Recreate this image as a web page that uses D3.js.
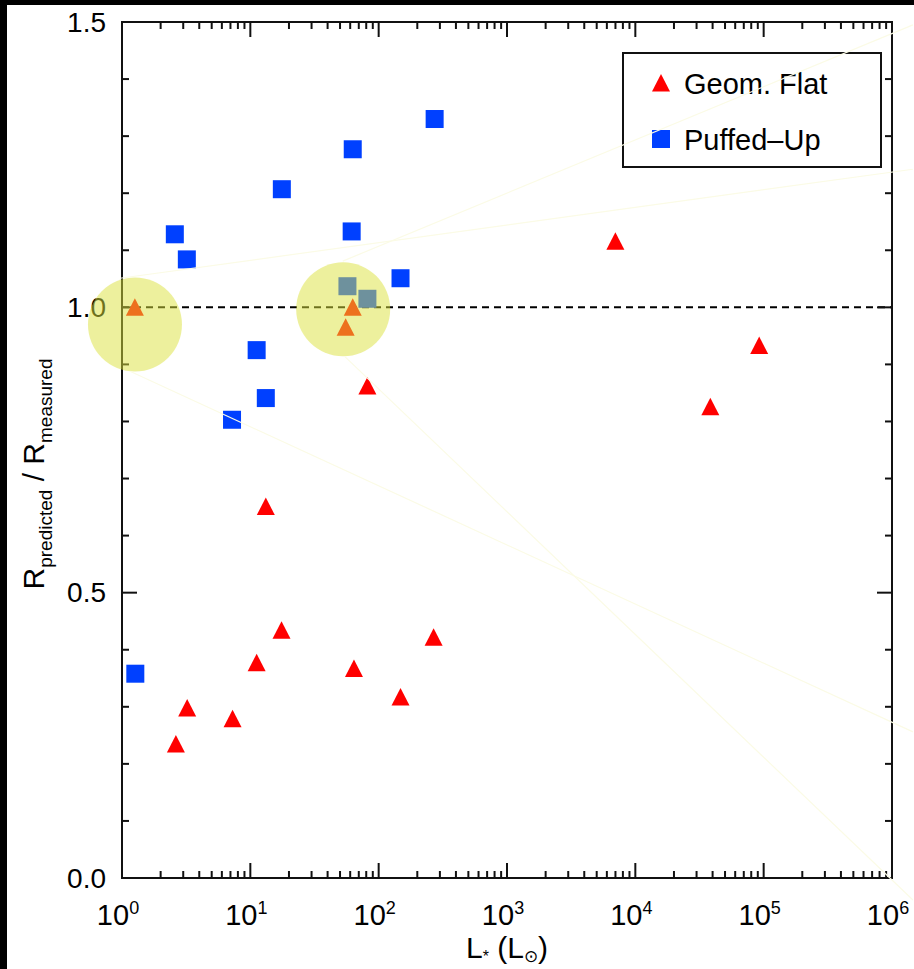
<!DOCTYPE html>
<html>
<head>
<meta charset="utf-8">
<script src="https://cdn.jsdelivr.net/npm/d3@7"></script>
<style>
  html, body { margin: 0; padding: 0; background: #fff; }
  svg { display: block; }
  text { font-family: "Liberation Sans", Arial, sans-serif; fill: #000; }
</style>
</head>
<body>
<svg id="chart" width="914" height="969"></svg>
<script>
// ---- data ----
const flatL     = [1.26, 62.8, 55.3, 81.7, 13.2, 6990, 38400, 92300, 17.5, 11.2, 64.2, 268, 3.22, 7.27, 2.63, 148];
const flatRatio = [1.0, 1.0, 0.965, 0.862, 0.651, 1.116, 0.826, 0.933, 0.434, 0.377, 0.367, 0.422, 0.298, 0.279, 0.235, 0.317];
const puffL     = [2.58, 3.2, 17.6, 62.8, 273, 61.6, 57.1, 81.7, 148, 11.2, 13.2, 7.2, 1.27];
const puffRatio = [1.128, 1.084, 1.207, 1.277, 1.330, 1.133, 1.037, 1.015, 1.051, 0.925, 0.841, 0.803, 0.358];
const seriesNames = ["Geom. Flat", "Puffed\u2013Up"];
const yTickLabels = ["0.0", "0.5", "1.0", "1.5"];
const xDecades = [0, 1, 2, 3, 4, 5, 6];
const referenceRatio = 1.0;
// highlight circles (data-space centres) and their connector lines (data-space endpoints)
const highlightL = [1.262, 52.9];
const highlightRatio = [0.970, 0.9965];
const connectorFromL = [0.965, 52.5, 1.154, 54.3];
const connectorFromR = [1.051, 1.081, 0.888, 0.914];
const connectorToL   = [1.456e6, 1.456e6, 1.456e6, 1.456e6];
const connectorToR   = [1.242, 1.495, 0.256, -0.0386];

// ---- layout ----
const W = 914, H = 969;
const L = 122, R = 892, T = 22, B = 878;
const svg = d3.select("#chart");

// black frame on top/left edges
svg.append("rect").attr("width", W).attr("height", H).attr("fill", "#000");
svg.append("rect").attr("x", 7).attr("y", 5).attr("width", W - 7).attr("height", H - 5).attr("fill", "#fff");

const x = d3.scaleLog().domain([1, 1e6]).range([L, R]);
const y = d3.scaleLinear().domain([0, 1.5]).range([B, T]);

const axisColor = "#111";
const g = svg.append("g");

// reference dashed line
g.append("line")
  .attr("x1", L).attr("x2", R)
  .attr("y1", y(referenceRatio)).attr("y2", y(referenceRatio))
  .attr("stroke", "#000").attr("stroke-width", 2)
  .attr("stroke-dasharray", "7,5");

// frame
g.append("rect").attr("x", L).attr("y", T).attr("width", R - L).attr("height", B - T)
  .attr("fill", "none").attr("stroke", axisColor).attr("stroke-width", 2);

// x ticks (bottom & top)
const xt = x.ticks();
xt.forEach(v => {
  const lg = Math.log10(v);
  const major = Math.abs(lg - Math.round(lg)) < 1e-9;
  const len = major ? 15 : 7;
  const px = x(v);
  g.append("line").attr("x1", px).attr("x2", px).attr("y1", B).attr("y2", B - len)
    .attr("stroke", axisColor).attr("stroke-width", 2);
  g.append("line").attr("x1", px).attr("x2", px).attr("y1", T).attr("y2", T + len)
    .attr("stroke", axisColor).attr("stroke-width", 2);
});

// y ticks (left & right)
const yt = d3.range(0, 16).map(i => i / 10);
yt.forEach((v, i) => {
  const major = i % 5 === 0;
  const len = major ? 15 : 7;
  const py = y(v);
  g.append("line").attr("x1", L).attr("x2", L + len).attr("y1", py).attr("y2", py)
    .attr("stroke", axisColor).attr("stroke-width", 2);
  g.append("line").attr("x1", R).attr("x2", R - len).attr("y1", py).attr("y2", py)
    .attr("stroke", axisColor).attr("stroke-width", 2);
});

// y tick labels
yTickLabels.forEach(lab => {
  g.append("text").attr("x", L - 16).attr("y", y(+lab))
    .attr("text-anchor", "end").attr("dominant-baseline", "central")
    .attr("font-size", 28).text(lab);
});

// x tick labels 10^n
xDecades.forEach(d => {
  const t = g.append("text").attr("x", x(Math.pow(10, d)) - 4).attr("y", 925)
    .attr("text-anchor", "middle").attr("font-size", 29);
  t.append("tspan").text("10");
  t.append("tspan").attr("font-size", 18).attr("dy", -11).text(String(d));
});

// axis titles
const xt2 = g.append("text").attr("x", 507).attr("y", 958).attr("text-anchor", "middle").attr("font-size", 30);
xt2.append("tspan").text("L");
xt2.append("tspan").attr("font-size", 16).attr("dy", 4).text("*");
xt2.append("tspan").attr("dy", -4).text(" (L");
xt2.append("tspan").attr("font-size", 17).attr("dy", 4).text("\u2299");
xt2.append("tspan").attr("dy", -4).text(")");

const yt2 = g.append("text").attr("transform", "translate(44,474) rotate(-90)")
  .attr("text-anchor", "middle").attr("font-size", 30);
yt2.append("tspan").text("R");
yt2.append("tspan").attr("font-size", 19).attr("dy", 8).text("predicted");
yt2.append("tspan").attr("dy", -8).text(" / R");
yt2.append("tspan").attr("font-size", 19).attr("dy", 8).text("measured");

// markers
const triPath = "M0,-9L9,8.5L-9,8.5Z";
const sq = 18;
const puff = d3.zip(puffL, puffRatio);
const flat = d3.zip(flatL, flatRatio);

g.selectAll("rect.puff").data(puff).enter().append("rect")
  .attr("class", "puff")
  .attr("x", d => x(d[0]) - sq / 2).attr("y", d => y(d[1]) - sq / 2)
  .attr("width", sq).attr("height", sq).attr("fill", "#0040ff");

g.selectAll("path.flat").data(flat).enter().append("path")
  .attr("class", "flat")
  .attr("d", triPath)
  .attr("transform", d => `translate(${x(d[0])},${y(d[1])})`)
  .attr("fill", "#ff0000");

// legend
const lg = g.append("g");
lg.append("rect").attr("x", 623).attr("y", 53).attr("width", 258).attr("height", 114)
  .attr("fill", "#fff").attr("stroke", axisColor).attr("stroke-width", 2);
lg.append("path").attr("d", triPath).attr("transform", "translate(661,83)").attr("fill", "#ff0000");
lg.append("rect").attr("x", 661 - sq / 2).attr("y", 139 - sq / 2).attr("width", sq).attr("height", sq).attr("fill", "#0040ff");
lg.append("text").attr("x", 684).attr("y", 84).attr("dominant-baseline", "central").attr("font-size", 29).text(seriesNames[0]);
lg.append("text").attr("x", 684).attr("y", 140).attr("dominant-baseline", "central").attr("font-size", 29).text(seriesNames[1]);

// highlight circles
g.selectAll("circle.hl").data(d3.zip(highlightL, highlightRatio)).enter().append("circle")
  .attr("class", "hl")
  .attr("cx", d => x(d[0])).attr("cy", d => y(d[1])).attr("r", 47)
  .attr("fill", "rgb(220,225,60)").attr("fill-opacity", 0.5);

// faint connector lines
d3.range(connectorFromL.length).forEach(i => {
  g.append("line")
    .attr("x1", x(connectorFromL[i])).attr("y1", y(connectorFromR[i]))
    .attr("x2", x(connectorToL[i])).attr("y2", y(connectorToR[i]))
    .attr("stroke", "#fbfbe6").attr("stroke-width", 1.2);
});
</script>
</body>
</html>
